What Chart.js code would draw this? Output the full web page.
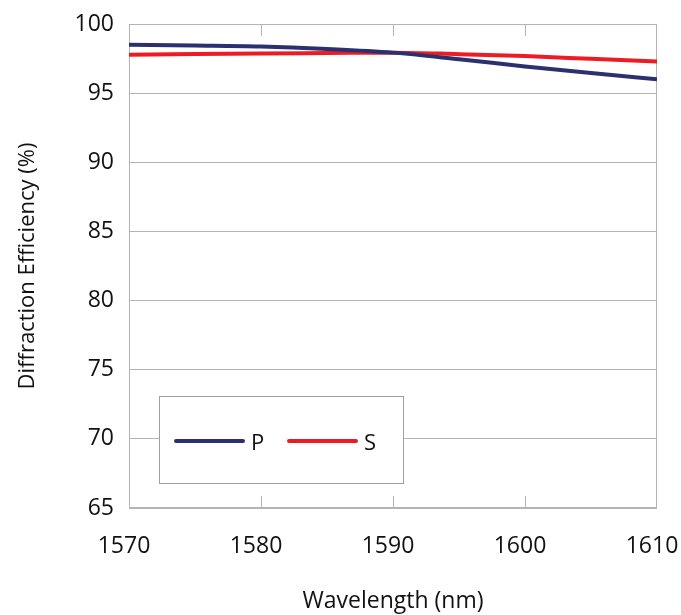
<!DOCTYPE html>
<html>
<head>
<meta charset="utf-8">
<script src="https://cdn.jsdelivr.net/npm/chart.js@4.4.0/dist/chart.umd.min.js"></script>
<style>
  body { margin: 0; background: #fff; }
  #wrap { width: 681px; height: 615px; }
</style>
</head>
<body>
<div id="wrap"><canvas id="myChart" width="681" height="615"></canvas></div>
<script>
let wavelengths = [1570, 1575, 1580, 1585, 1590, 1595, 1600, 1605, 1610];
let pValues = [98.5, 98.45, 98.38, 98.2, 97.93, 97.45, 96.93, 96.45, 96.0];
let sValues = [97.77, 97.83, 97.87, 97.9, 97.93, 97.82, 97.68, 97.48, 97.28];
let xTicks = [1570, 1580, 1590, 1600, 1610];
let yTicks = [65, 70, 75, 80, 85, 90, 95, 100];

const fontFamily = '"Open Sans", sans-serif';
const gridGray = '#b4b4b4';

function toPoints(values) {
  return wavelengths.map((w, i) => ({ x: w, y: values[i] }));
}

// border box + short x tick marks inside plot (top and bottom)
const frame = {
  id: 'frame',
  beforeDatasetsDraw(chart) {
    const { ctx, chartArea, scales } = chart;
    ctx.save();
    ctx.strokeStyle = gridGray;
    ctx.lineWidth = 1;
    ctx.strokeRect(chartArea.left + 0.5, chartArea.top + 0.5, chartArea.width - 1, chartArea.height - 1);
    ctx.beginPath();
    for (let i = 1; i < xTicks.length - 1; i++) {
      let x = Math.round(scales.x.getPixelForValue(xTicks[i])) + 0.5;
      ctx.moveTo(x, chartArea.top);
      ctx.lineTo(x, chartArea.top + 12);
      ctx.moveTo(x, chartArea.bottom);
      ctx.lineTo(x, chartArea.bottom - 12);
    }
    ctx.stroke();
    ctx.restore();
  }
};

// boxed legend in the lower left of the plot
const boxLegend = {
  id: 'boxLegend',
  afterDraw(chart) {
    const { ctx, chartArea } = chart;
    let left = chartArea.left + 30;
    let top = chartArea.bottom - 112;
    let w = 244, h = 87;
    ctx.save();
    ctx.fillStyle = '#fff';
    ctx.fillRect(left, top, w, h);
    ctx.strokeStyle = '#a0a0a0';
    ctx.lineWidth = 1;
    ctx.strokeRect(left + 0.5, top + 0.5, w, h);
    ctx.font = '22px ' + fontFamily;
    ctx.textBaseline = 'middle';
    let cy = top + 45;
    chart.data.datasets.forEach((ds, i) => {
      let x0 = left + 17 + i * 113;
      ctx.strokeStyle = ds.borderColor;
      ctx.lineWidth = 4;
      ctx.lineCap = 'round';
      ctx.beginPath();
      ctx.moveTo(x0, cy);
      ctx.lineTo(x0 + 67, cy);
      ctx.stroke();
      ctx.fillStyle = '#111';
      ctx.fillText(ds.label, x0 + 75, cy + 3);
    });
    ctx.restore();
  }
};

const ctx = document.getElementById('myChart').getContext('2d');
const myChart = new Chart(ctx, {
  type: 'line',
  data: {
    datasets: [{
      label: 'P',
      data: toPoints(pValues),
      borderColor: '#2b3170',
      borderWidth: 4,
      pointRadius: 0,
      tension: 0.4,
      cubicInterpolationMode: 'monotone'
    }, {
      label: 'S',
      data: toPoints(sValues),
      borderColor: '#ed1c24',
      borderWidth: 4,
      pointRadius: 0,
      tension: 0.4,
      cubicInterpolationMode: 'monotone'
    }]
  },
  options: {
    responsive: false,
    animation: false,
    layout: { padding: { top: 24, right: 24, bottom: 0, left: 0 } },
    plugins: {
      legend: { display: false },
      tooltip: { enabled: false }
    },
    scales: {
      x: {
        type: 'linear',
        min: 1570,
        max: 1610,
        afterBuildTicks(axis) {
          axis.ticks = xTicks.map(v => ({ value: v }));
        },
        afterFit(axis) {
          axis.height = 107;
          axis.paddingLeft = 0;
          axis.paddingRight = 0;
        },
        grid: { display: false, drawTicks: false },
        border: { display: false },
        ticks: {
          padding: 25,
          labelOffset: -5,
          color: '#111',
          font: { family: fontFamily, size: 23 },
          callback: v => String(v)
        },
        title: {
          display: true,
          text: 'Wavelength (nm)',
          color: '#111',
          font: { family: fontFamily, size: 23 },
          padding: { top: 18, bottom: 0 }
        }
      },
      y: {
        min: 65,
        max: 100,
        afterBuildTicks(axis) {
          axis.ticks = yTicks.map(v => ({ value: v }));
        },
        afterFit(axis) {
          axis.width = 129;
          axis.paddingTop = 0;
          axis.paddingBottom = 0;
        },
        grid: { color: gridGray, lineWidth: 1, drawTicks: false },
        border: { display: false },
        ticks: {
          padding: 15,
          color: '#111',
          font: { family: fontFamily, size: 23 }
        },
        title: {
          display: true,
          text: 'Diffraction Efficiency (%)',
          color: '#111',
          font: { family: fontFamily, size: 22 },
          padding: { top: 15, bottom: 4 }
        }
      }
    }
  },
  plugins: [frame, boxLegend]
});
</script>
</body>
</html>
